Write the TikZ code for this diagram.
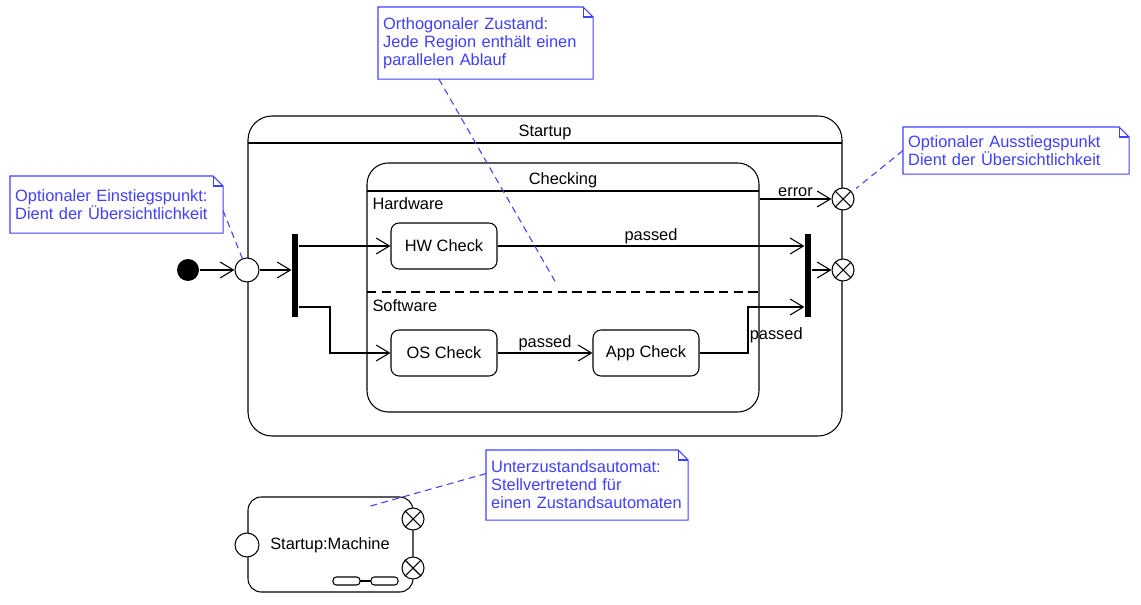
\documentclass[tikz,border=0pt]{standalone}
\usepackage{fontspec}
\setmainfont{Liberation Sans}
\usetikzlibrary{arrows.meta,fit,positioning}
\definecolor{noteblue}{RGB}{64,64,255}
\begin{document}
\begin{tikzpicture}[x=0.75pt,y=-0.75pt,line width=0.8pt,
    every node/.style={font=\fontsize{12.3}{13.5}\selectfont},
    trans/.style={-{Straight Barb[length=10pt,width=12pt]}},
    translabel/.style={inner ysep=1pt},
    simplestate/.style={draw,rounded corners=6pt,minimum width=79.5pt,minimum height=34.5pt},
    compstate/.style={draw,inner sep=0pt},
    initstate/.style={circle,fill=black,minimum size=16.5pt,inner sep=0pt},
    entrypt/.style={circle,draw,fill=white,minimum size=18pt,inner sep=0pt},
    exitpt/.style={circle,draw,fill=white,minimum size=16.5pt,inner sep=0pt,
        path picture={\draw (path picture bounding box.north west) -- (path picture bounding box.south east)
            (path picture bounding box.north east) -- (path picture bounding box.south west);}},
    forkbar/.style={fill=black,minimum width=4.5pt,minimum height=62.25pt,inner sep=0pt},
    umlnote/.style={fill=white,text=noteblue,anchor=north west,align=left,inner xsep=3.5pt,inner ysep=0pt},
    notelink/.style={noteblue,dash pattern=on 5pt off 3.5pt}]
    \useasboundingbox (0,0) rectangle (1141,605);
    % composite state with two regions
    \node[compstate,rounded corners=18pt,fit={(248,116) (842,436)}] (startup) {};
    \node (startuptitle) at (545,132) {Startup};
    \draw (248,143) -- (842,143);
    \node[compstate,rounded corners=16pt,fit={(367,163) (759,412)}] (checking) {};
    \node (checkingtitle) at (563,180) {Checking};
    \draw (367,191) -- (759,191);
    \draw[dash pattern=on 7pt off 4pt] (367,292) -- (759,292);
    \node[anchor=west,inner sep=0pt] (hwregion) at (372,204) {Hardware};
    \node[anchor=west,inner sep=0pt] (swregion) at (372,306) {Software};
    % states
    \node[simplestate] (hw) at (444,246) {HW Check};
    \node[simplestate] (os) at (444,353) {OS Check};
    \node[simplestate] (app) at (646,353) {App Check};
    % pseudostates
    \node[initstate] (init) at (188,270) {};
    \node[entrypt] (entry) at (247,270) {};
    \node[forkbar] (fork) at (295,275.5) {};
    \node[forkbar] (join) at (808,275.5) {};
    \node[exitpt] (exit1) at (843,199) {};
    \node[exitpt] (exit2) at (843,270) {};
    \coordinate (forkbend) at (330,307);
    \coordinate (appbend) at (748,307);
    % transitions
    \draw[trans] (init) -- (entry);
    \draw[trans] (entry) -- (fork.west |- entry);
    \draw[trans] (fork.east |- hw) -- (hw);
    \draw[trans] (fork.east |- forkbend) -- (forkbend) |- (os);
    \draw[trans] (hw) -- (join.west |- hw) node[translabel,midway,above] {passed};
    \draw[trans] (os) -- (app) node[translabel,midway,above] {passed};
    \draw[trans] (app) -| (appbend) -- (join.west |- appbend) node[midway,below=12pt] {passed};
    \draw[trans] (join.east |- exit2) -- (exit2);
    \draw[trans] (checking.east |- exit1) -- (exit1) node[translabel,midway,above] {error};
    % submachine state
    \node[compstate,rounded corners=10pt,fit={(248,497) (413,592)}] (submachine) {};
    \node (submachinelbl) at (330,545) {Startup:Machine};
    \node[entrypt] (subentry) at (247,545) {};
    \node[exitpt] (subexit1) at (413,519) {};
    \node[exitpt] (subexit2) at (413,568) {};
    \draw[rounded corners=2.5pt] (333,577) rectangle (360,585) (371,577) rectangle (398,585);
    \draw (360,581) -- (371,581);
    % notes
    \node[umlnote,minimum width=159pt,minimum height=42pt,text width=152pt] (note1) at (10,176)
        {Optionaler Einstiegspunkt:\\Dient der Übersichtlichkeit};
    \node[umlnote,minimum width=160.5pt,minimum height=53.25pt,text width=153.5pt] (note2) at (378,7)
        {Orthogonaler Zustand:\\Jede Region enthält einen\\parallelen Ablauf};
    \node[umlnote,minimum width=168.75pt,minimum height=34.5pt,text width=161.75pt] (note3) at (903,127)
        {Optionaler Ausstiegspunkt\\Dient der Übersichtlichkeit};
    \node[umlnote,minimum width=150.75pt,minimum height=51.75pt,text width=143.75pt] (note4) at (486,450)
        {Unterzustandsautomat:\\Stellvertretend für\\einen Zustandsautomaten};
    \foreach \n in {note1,note2,note3,note4} {
        \draw[noteblue] (\n.south west) -- (\n.north west) -- ([xshift=-7.5pt]\n.north east)
            -- ([yshift=-7.5pt]\n.north east) -- (\n.south east) -- cycle;
        \draw[noteblue] ([xshift=-7.5pt]\n.north east) |- ([yshift=-7.5pt]\n.north east);
    }
    \coordinate (regionpt) at (556,283);
    \coordinate (subpt) at (367,507);
    \draw[notelink] ([yshift=-4.5pt]note1.east) -- (entry);
    \draw[notelink] ([xshift=-35pt]note2.south) -- (regionpt);
    \draw[notelink,shorten >=4pt] (note3.west) -- (exit1);
    \draw[notelink] ([yshift=8.6pt]note4.west) -- (subpt);
\end{tikzpicture}
\end{document}
